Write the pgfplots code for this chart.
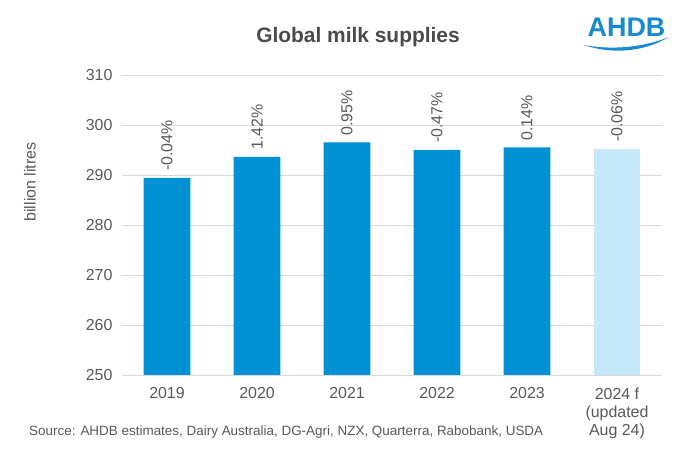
\documentclass[border=0pt]{standalone}
\usepackage{fontspec}
\setmainfont{Liberation Sans}
\usepackage{pgfplots}
\pgfplotsset{compat=1.18}
\definecolor{barblue}{HTML}{0090D4}
\definecolor{barlight}{HTML}{C5E9FA}
\definecolor{txtgray}{HTML}{595959}
\definecolor{titlegray}{HTML}{4A4A4A}
\definecolor{gridgray}{HTML}{D9D9D9}
\definecolor{logoblue}{HTML}{1A8AD0}
\begin{document}
\begin{tikzpicture}[x=1bp,y=1bp]
\useasboundingbox (0,0) rectangle (682,450);
\fill[white] (0,0) rectangle (682,450);
\begin{axis}[at={(122bp,75bp)}, anchor=south west, scale only axis,
  width=540bp, height=300bp,
  xmin=-0.5, xmax=5.5, ymin=250, ymax=310,
  ytick={250,260,...,310}, xtick={0,...,5},
  xticklabels={2019,2020,2021,2022,2023,{2024 f\\(updated\\Aug 24)}},
  axis line style={draw=none}, major tick length=0pt,
  ymajorgrids, grid style={gridgray, line width=0.75bp},
  tick label style={font=\fontsize{16}{18.5}\selectfont, text=txtgray},
  /pgf/number format/assume math mode=true,
  xticklabel style={align=center, yshift=-9bp},
  yticklabel style={xshift=-6bp},
  clip=false,
]
\addplot[ybar, bar width=0.52, fill=barblue, draw=none,
  nodes near coords={\pgfplotspointmeta}, point meta=explicit symbolic,
  every node near coord/.style={rotate=90, anchor=west, inner xsep=7bp, inner ysep=0pt,
    font=\fontsize{16}{18}\selectfont, text=txtgray}]
  coordinates {(0,289.4) [-0.04\%] (1,293.6) [1.42\%] (2,296.5) [0.95\%] (3,295.0) [-0.47\%] (4,295.5) [0.14\%]};
\addplot[ybar, bar width=0.52, fill=barlight, draw=none,
  nodes near coords={\pgfplotspointmeta}, point meta=explicit symbolic,
  every node near coord/.style={rotate=90, anchor=west, inner xsep=7bp, inner ysep=0pt,
    font=\fontsize{16}{18}\selectfont, text=txtgray}]
  coordinates {(5,295.2) [-0.06\%]};
\end{axis}
\node[font=\bfseries\fontsize{21}{23}\selectfont, text=titlegray] at (358,413) {Global milk supplies};
\node[rotate=90, font=\fontsize{16}{18}\selectfont, text=txtgray] at (30,268) {billion litres};
\node[anchor=west, inner sep=0pt, font=\fontsize{13.5}{16}\selectfont, text=txtgray] at (29,18) {Source: AHDB estimates, Dairy Australia, DG-Agri, NZX, Quarterra, Rabobank, USDA};
\node[anchor=base, inner sep=0pt, font=\bfseries\fontsize{27}{27}\selectfont, text=logoblue] at (626.5,413) {AHDB};
\fill[logoblue] (584,405) .. controls (610,396) and (642,397) .. (669,413)
  .. controls (642,402) and (610,400) .. (584,405) -- cycle;
\end{tikzpicture}
\end{document}
